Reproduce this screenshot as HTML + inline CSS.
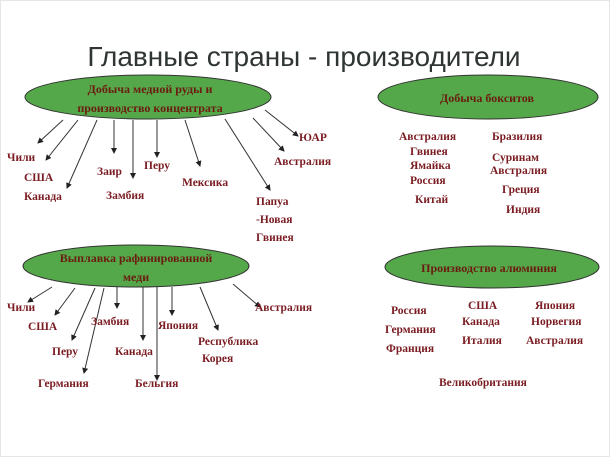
<!DOCTYPE html>
<html><head><meta charset="utf-8"><style>
html,body{margin:0;padding:0;background:#fff;}
svg{display:block}
.t{font-family:"Liberation Serif","Noto Serif CJK SC",serif;font-weight:bold;font-size:11.5px;fill:#7a1c22;}
.h{font-family:"Liberation Serif","Noto Serif CJK SC",serif;font-weight:bold;font-size:12px;fill:#6b1c10;}
</style></head><body>
<svg width="610" height="457" viewBox="0 0 610 457" xmlns="http://www.w3.org/2000/svg">
<defs><marker id="a" markerWidth="6" markerHeight="6" refX="5" refY="3" orient="auto"><path d="M0,0 L6,3 L0,6 z" fill="#222"/></marker></defs>
<rect x="0.5" y="0.5" width="609" height="456" fill="#fff" stroke="#e6e6e6"/>
<text x="304" y="66" text-anchor="middle" font-family="Liberation Sans, sans-serif" font-size="28" fill="#2e3532">Главные страны - производители</text>
<g fill="#55a84a" stroke="#333" stroke-width="1">
<ellipse cx="148" cy="97" rx="123" ry="22"/>
<ellipse cx="136" cy="266" rx="113" ry="21"/>
<ellipse cx="488" cy="97" rx="110" ry="22"/>
<ellipse cx="492" cy="267" rx="107" ry="21"/>
</g>
<text class="h" x="150" y="93" text-anchor="middle">Добыча медной руды и</text>
<text class="h" x="150" y="112" text-anchor="middle">производство концентрата</text>
<text class="h" x="136" y="262" text-anchor="middle">Выплавка рафинированной</text>
<text class="h" x="136" y="281" text-anchor="middle">меди</text>
<text class="h" x="487" y="102" text-anchor="middle">Добыча бокситов</text>
<text class="h" x="489" y="272" text-anchor="middle">Производство алюминия</text>
<g stroke="#333" stroke-width="1" marker-end="url(#a)">
<line x1="63" y1="120" x2="38" y2="143"/>
<line x1="78" y1="120" x2="46" y2="160"/>
<line x1="97" y1="120" x2="67" y2="188"/>
<line x1="114" y1="120" x2="114" y2="153"/>
<line x1="133" y1="120" x2="133" y2="178"/>
<line x1="157" y1="120" x2="157" y2="157"/>
<line x1="185" y1="120" x2="200" y2="166"/>
<line x1="225" y1="119" x2="270" y2="190"/>
<line x1="253" y1="118" x2="284" y2="151"/>
<line x1="265" y1="110" x2="298" y2="136"/>
<line x1="52" y1="287" x2="28" y2="302"/>
<line x1="75" y1="288" x2="55" y2="315"/>
<line x1="95" y1="288" x2="72" y2="340"/>
<line x1="104" y1="288" x2="84" y2="373"/>
<line x1="117" y1="287" x2="117" y2="308"/>
<line x1="143" y1="287" x2="143" y2="340"/>
<line x1="157" y1="287" x2="157" y2="380"/>
<line x1="172" y1="287" x2="172" y2="315"/>
<line x1="200" y1="287" x2="218" y2="330"/>
<line x1="233" y1="284" x2="260" y2="307"/>
</g>
<g class="t">
<text x="7" y="161">Чили</text>
<text x="24" y="181">США</text>
<text x="24" y="200">Канада</text>
<text x="97" y="175">Заир</text>
<text x="106" y="199">Замбия</text>
<text x="144" y="169">Перу</text>
<text x="182" y="186">Мексика</text>
<text x="256" y="205">Папуа</text>
<text x="256" y="223">-Новая</text>
<text x="256" y="241">Гвинея</text>
<text x="274" y="165">Австралия</text>
<text x="299" y="141">ЮАР</text>
<text x="7" y="311">Чили</text>
<text x="28" y="330">США</text>
<text x="52" y="355">Перу</text>
<text x="38" y="387">Германия</text>
<text x="91" y="325">Замбия</text>
<text x="115" y="355">Канада</text>
<text x="135" y="387">Бельгия</text>
<text x="158" y="329">Япония</text>
<text x="198" y="345">Республика</text>
<text x="202" y="362">Корея</text>
<text x="255" y="311">Австралия</text>
<text x="399" y="140">Австралия</text>
<text x="410" y="155">Гвинея</text>
<text x="410" y="169">Ямайка</text>
<text x="410" y="184">Россия</text>
<text x="415" y="203">Китай</text>
<text x="492" y="140">Бразилия</text>
<text x="492" y="161">Суринам</text>
<text x="490" y="174">Австралия</text>
<text x="502" y="193">Греция</text>
<text x="506" y="213">Индия</text>
<text x="391" y="314">Россия</text>
<text x="385" y="333">Германия</text>
<text x="386" y="352">Франция</text>
<text x="468" y="309">США</text>
<text x="462" y="325">Канада</text>
<text x="462" y="344">Италия</text>
<text x="535" y="309">Япония</text>
<text x="531" y="325">Норвегия</text>
<text x="526" y="344">Австралия</text>
<text x="439" y="386">Великобритания</text>
</g>
</svg>
</body></html>
